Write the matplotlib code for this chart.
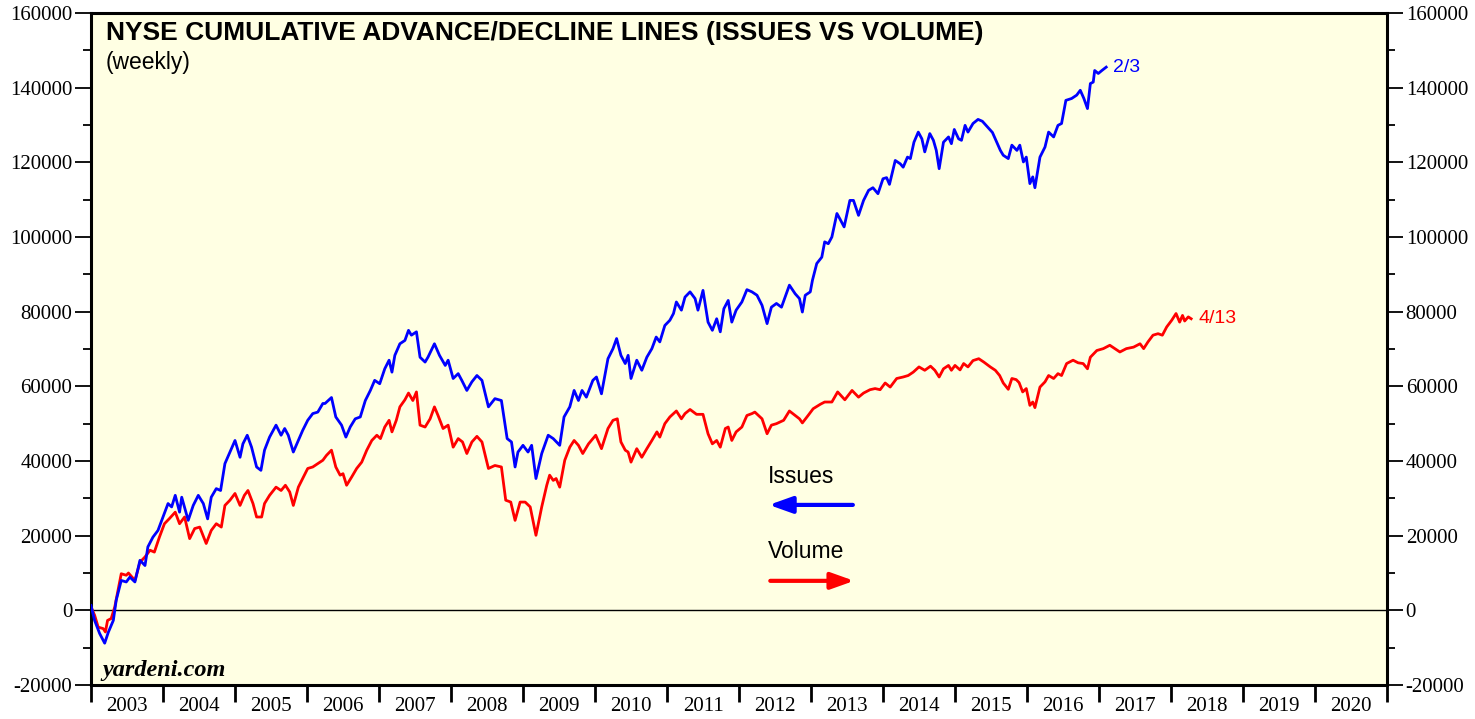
import numpy as np
import matplotlib
matplotlib.use("Agg")
import matplotlib.pyplot as plt
from matplotlib.ticker import MultipleLocator, NullFormatter, FixedLocator, FixedFormatter

plt.rcParams["axes.unicode_minus"] = False

# weekly readings, time as years after start of 2003, values in thousands
issues_t = [0.00, 0.05, 0.12, 0.19, 0.24, 0.31, 0.35, 0.42, 0.49, 0.54, 0.61, 0.68, 0.75, 0.79, 0.86, 0.93,
            1.00, 1.07, 1.12, 1.17, 1.23, 1.26, 1.35, 1.42, 1.49, 1.56, 1.62, 1.67, 1.74, 1.80, 1.86, 1.93,
            2.00, 2.07, 2.11, 2.17, 2.23, 2.30, 2.36, 2.41, 2.48, 2.57, 2.64, 2.69, 2.74, 2.81, 2.88, 2.94,
            3.01, 3.08, 3.15, 3.22, 3.25, 3.34, 3.40, 3.48, 3.54, 3.60, 3.67, 3.74, 3.81, 3.88, 3.94,
            4.01, 4.08, 4.14, 4.18, 4.22, 4.29, 4.36, 4.41, 4.45, 4.52, 4.57, 4.64, 4.68, 4.77, 4.84, 4.92, 4.96,
            5.03, 5.10, 5.15, 5.22, 5.29, 5.36, 5.43, 5.52, 5.61, 5.70, 5.78, 5.84, 5.89, 5.93,
            6.00, 6.07, 6.12, 6.18, 6.26, 6.35, 6.42, 6.51, 6.57, 6.65, 6.71, 6.77, 6.82, 6.88, 6.97,
            7.02, 7.09, 7.18, 7.25, 7.30, 7.36, 7.42, 7.46, 7.50, 7.58, 7.65, 7.72, 7.79, 7.85, 7.90, 7.97,
            8.04, 8.09, 8.13, 8.20, 8.25, 8.32, 8.39, 8.43, 8.50, 8.57, 8.63, 8.69, 8.74, 8.79, 8.85, 8.90, 8.96,
            9.04, 9.11, 9.18, 9.25, 9.32, 9.39, 9.45, 9.52, 9.59, 9.64, 9.70, 9.78, 9.84, 9.88, 9.92, 9.99,
            10.02, 10.08, 10.15, 10.19, 10.24, 10.29, 10.36, 10.40, 10.46, 10.54, 10.59, 10.66, 10.73, 10.80,
            10.86, 10.93, 11.00, 11.05, 11.09, 11.17, 11.24, 11.28, 11.34, 11.38, 11.43, 11.49, 11.54, 11.58,
            11.65, 11.70, 11.74, 11.78, 11.84, 11.91, 11.95, 11.99, 12.05, 12.09, 12.14, 12.18, 12.25, 12.32,
            12.38, 12.45, 12.52, 12.58, 12.63, 12.67, 12.74, 12.79, 12.86, 12.90, 12.95, 12.99,
            13.04, 13.08, 13.11, 13.18, 13.25, 13.30, 13.37, 13.43, 13.48, 13.54, 13.62, 13.69, 13.74, 13.79,
            13.84, 13.88, 13.92, 13.94, 13.99, 14.04, 14.10]
issues_v = [1.3, -2.7, -6.2, -8.8, -5.9, -2.7, 2.7, 8.0, 7.6, 8.9, 7.6, 13.4, 12.0, 17.0, 19.6, 21.4,
            25.0, 28.6, 27.7, 30.8, 26.3, 30.3, 24.1, 28.1, 30.8, 28.6, 24.5, 30.3, 32.6, 32.1, 39.3, 42.4,
            45.5, 41.0, 44.6, 46.9, 43.7, 38.4, 37.5, 42.9, 46.4, 49.6, 46.9, 48.7, 46.9, 42.4, 45.5, 48.2,
            50.9, 52.7, 53.1, 55.4, 55.4, 57.0, 51.8, 49.6, 46.4, 49.1, 51.3, 51.8, 56.2, 58.9, 61.6,
            60.7, 64.7, 67.0, 63.8, 68.3, 71.4, 72.3, 75.0, 73.7, 74.6, 67.8, 66.5, 67.8, 71.4, 68.3, 65.6, 67.0,
            62.1, 63.4, 61.6, 58.9, 61.2, 62.9, 61.6, 54.5, 56.7, 56.2, 46.0, 45.1, 38.4, 42.4,
            44.2, 42.4, 44.2, 35.3, 42.0, 46.9, 46.0, 44.2, 51.8, 54.5, 58.9, 56.2, 58.9, 57.1, 61.6,
            62.5, 58.0, 67.4, 70.1, 72.8, 68.3, 66.1, 68.3, 62.1, 67.0, 64.3, 67.8, 70.1, 73.2, 71.9, 76.3,
            77.7, 79.5, 82.6, 80.4, 83.9, 85.3, 83.5, 80.4, 85.7, 77.2, 75.0, 78.1, 74.6, 80.8, 83.0, 77.2, 80.4,
            82.6, 85.9, 85.3, 84.4, 81.7, 76.8, 81.2, 82.2, 81.2, 83.9, 87.1, 84.8, 83.5, 79.9, 84.4, 85.3,
            88.4, 92.9, 94.6, 98.7, 98.2, 100.0, 106.3, 104.9, 102.7, 109.8, 109.8, 105.8, 109.8, 112.5,
            113.2, 111.6, 115.6, 115.9, 114.1, 120.5, 119.6, 118.7, 121.4, 121.0, 125.4, 128.1, 126.3, 122.8,
            127.7, 125.9, 123.2, 118.3, 125.4, 126.8, 125.0, 128.8, 126.3, 125.9, 129.9, 128.1, 130.4, 131.5,
            131.0, 129.5, 128.0, 125.4, 123.2, 121.9, 121.0, 124.6, 123.2, 124.6, 120.1, 121.4,
            114.3, 116.1, 113.2, 121.4, 124.1, 128.1, 126.8, 129.9, 130.4, 136.6, 137.1, 138.0, 139.3, 137.1,
            134.4, 141.1, 141.5, 144.6, 143.8, 144.6, 145.5]

volume_t = [0.00, 0.05, 0.10, 0.17, 0.20, 0.23, 0.28, 0.33, 0.38, 0.42, 0.49, 0.52, 0.61, 0.68, 0.75, 0.82,
            0.88, 0.95, 1.02, 1.09, 1.17, 1.23, 1.30, 1.37, 1.44, 1.51, 1.60, 1.67, 1.74, 1.81, 1.86, 1.93,
            2.00, 2.07, 2.13, 2.18, 2.25, 2.30, 2.37, 2.41, 2.48, 2.57, 2.64, 2.70, 2.76, 2.81, 2.88, 2.94,
            3.01, 3.08, 3.15, 3.22, 3.27, 3.34, 3.40, 3.46, 3.50, 3.55, 3.62, 3.69, 3.76, 3.83, 3.90, 3.97,
            4.02, 4.08, 4.14, 4.18, 4.24, 4.29, 4.36, 4.41, 4.47, 4.52, 4.57, 4.64, 4.71, 4.77, 4.82, 4.89, 4.96,
            5.03, 5.10, 5.16, 5.22, 5.29, 5.36, 5.43, 5.52, 5.61, 5.70, 5.76, 5.83, 5.89, 5.96,
            6.03, 6.10, 6.18, 6.26, 6.33, 6.37, 6.42, 6.46, 6.51, 6.58, 6.65, 6.71, 6.77, 6.83, 6.91,
            7.01, 7.09, 7.18, 7.25, 7.31, 7.36, 7.42, 7.46, 7.50, 7.58, 7.65, 7.72, 7.79, 7.86, 7.90, 7.97,
            8.04, 8.13, 8.20, 8.25, 8.32, 8.41, 8.50, 8.57, 8.63, 8.69, 8.74, 8.81, 8.85, 8.90, 8.96,
            9.04, 9.11, 9.18, 9.22, 9.32, 9.39, 9.45, 9.52, 9.62, 9.70, 9.78, 9.84, 9.88, 9.96,
            10.03, 10.13, 10.19, 10.29, 10.37, 10.47, 10.57, 10.66, 10.73, 10.82, 10.89, 10.96,
            11.03, 11.10, 11.19, 11.28, 11.35, 11.42, 11.50, 11.58, 11.66, 11.72, 11.78, 11.84, 11.91, 11.95,
            12.00, 12.07, 12.12, 12.18, 12.25, 12.33, 12.40, 12.49, 12.56, 12.62, 12.67, 12.74, 12.79, 12.85,
            12.89, 12.94, 12.99, 13.04, 13.08, 13.11, 13.18, 13.25, 13.30, 13.37, 13.43, 13.48, 13.55, 13.64,
            13.71, 13.78, 13.84, 13.88, 13.97, 14.06, 14.15, 14.22, 14.29, 14.38, 14.48, 14.57, 14.62, 14.68,
            14.75, 14.82, 14.88, 14.94, 15.01, 15.07, 15.12, 15.16, 15.19, 15.24, 15.28]
volume_v = [0.9, -1.3, -4.5, -4.9, -5.8, -2.7, -2.2, 0.9, 5.8, 9.8, 9.4, 10.0, 8.0, 12.9, 14.3, 16.1,
            15.6, 19.6, 23.2, 24.6, 26.3, 23.2, 25.0, 19.2, 21.9, 22.3, 17.9, 21.4, 23.2, 22.3, 28.1, 29.5,
            31.3, 28.1, 30.8, 32.1, 28.6, 25.0, 25.0, 28.6, 30.8, 33.0, 32.1, 33.5, 31.7, 28.1, 33.0, 35.3,
            38.0, 38.4, 39.3, 40.2, 41.5, 42.9, 38.4, 36.2, 36.6, 33.5, 35.7, 38.0, 39.7, 42.9, 45.5, 46.9,
            46.0, 49.1, 50.9, 47.8, 50.9, 54.5, 56.4, 58.2, 56.2, 58.5, 49.6, 49.1, 51.3, 54.5, 52.2, 48.7, 49.6,
            43.7, 46.0, 45.1, 42.0, 45.1, 46.6, 45.1, 38.0, 38.8, 38.4, 29.5, 29.0, 24.1, 29.0,
            29.0, 27.7, 20.1, 27.7, 33.5, 36.2, 34.8, 35.3, 33.0, 40.2, 43.7, 45.5, 44.2, 42.0, 44.6,
            46.9, 43.3, 48.7, 50.9, 51.3, 45.1, 42.9, 42.4, 39.7, 43.3, 41.0, 43.3, 45.5, 47.8, 46.4, 50.0,
            51.8, 53.4, 51.3, 52.7, 53.8, 52.5, 52.5, 47.3, 44.6, 45.5, 43.7, 48.7, 49.1, 45.5, 47.8,
            49.1, 52.2, 52.7, 53.1, 51.3, 47.3, 49.6, 50.0, 50.9, 53.4, 52.2, 51.3, 50.2, 52.2,
            54.0, 55.2, 55.8, 55.8, 58.5, 56.4, 58.9, 57.1, 58.2, 59.1, 59.4, 59.1,
            60.9, 59.8, 62.1, 62.5, 62.9, 63.8, 65.2, 64.3, 65.4, 64.3, 62.5, 64.7, 65.6, 64.3,
            65.6, 64.4, 66.1, 65.2, 66.9, 67.4, 66.5, 65.2, 64.3, 62.9, 60.9, 59.2, 62.1, 61.8,
            61.0, 58.5, 59.4, 54.9, 55.8, 54.3, 59.8, 61.2, 62.9, 62.1, 63.4, 62.9, 66.1, 67.0,
            66.3, 66.1, 64.7, 67.8, 69.6, 70.1, 71.0, 70.1, 69.2, 70.1, 70.5, 71.4, 70.1, 71.9,
            73.7, 74.1, 73.7, 75.9, 77.7, 79.5, 77.2, 79.0, 77.5, 78.6, 78.1]

years = list(range(2003, 2021))
issues_label = "2/3"
volume_label = "4/13"

BLUE = "#0000FF"
RED = "#FF0000"
BG = "#FFFFE3"

fig = plt.figure(figsize=(14.75, 7.19), dpi=100)
ax = fig.add_axes([91 / 1475, 34 / 719, 1296 / 1475, 672 / 719])
ax.set_facecolor(BG)

it = 2003 + np.array(issues_t)
iv = np.array(issues_v) * 1000
vt = 2003 + np.array(volume_t)
vv = np.array(volume_v) * 1000

ax.axhline(0, color="black", lw=1.0, zorder=1)
ax.plot(it, iv, color=BLUE, lw=2.0, zorder=3)
ax.plot(vt, vv, color=RED, lw=2.0, zorder=2)

ax.set_xlim(2003, 2021)
ax.set_ylim(-20000, 160000)

# y axis on both sides, serif numbers
ax.yaxis.set_major_locator(MultipleLocator(20000))
ax.yaxis.set_minor_locator(MultipleLocator(10000))
ax.tick_params(axis="y", which="major", direction="out", length=11.5, width=1.3,
               left=True, right=True, labelleft=True, labelright=True, labelsize=15, pad=2)
ax.tick_params(axis="y", which="minor", direction="out", length=6, width=1.3, left=True, right=True)

# x axis: ticks at year boundaries, labels in the middle of each year
ax.xaxis.set_major_locator(FixedLocator(list(range(2003, 2022))))
ax.xaxis.set_major_formatter(NullFormatter())
ax.xaxis.set_minor_locator(FixedLocator([y + 0.5 for y in years]))
ax.xaxis.set_minor_formatter(FixedFormatter([str(y) for y in years]))
ax.tick_params(axis="x", which="major", direction="out", length=12, width=2.0, top=False)
ax.tick_params(axis="x", which="minor", length=0, labelsize=15, pad=8.5)

for lab in ax.get_xticklabels(minor=True) + ax.get_yticklabels():
    lab.set_fontfamily("Liberation Serif")

for s in ax.spines.values():
    s.set_linewidth(2.2)

ax.text(0.0116, 0.970, "NYSE CUMULATIVE ADVANCE/DECLINE LINES (ISSUES VS VOLUME)",
        transform=ax.transAxes, fontsize=19, fontweight="bold", family="Liberation Sans", va="center")
ax.text(0.0116, 0.926, "(weekly)", transform=ax.transAxes, fontsize=16.5,
        family="Liberation Sans", va="center")
ax.text(0.009, 0.022, "yardeni.com", transform=ax.transAxes, fontsize=17.5,
        family="Liberation Serif", fontweight="bold", style="italic", va="center")

# end-point date labels
ax.annotate(issues_label, xy=(it[-1], iv[-1]), xytext=(5, 0), textcoords="offset points",
            color=BLUE, fontsize=14, family="Liberation Sans", va="center")
ax.annotate(volume_label, xy=(vt[-1], vv[-1]), xytext=(5, 0), textcoords="offset points",
            color=RED, fontsize=14, family="Liberation Sans", va="center")

# legend with arrows
ax.text(0.522, 0.311, "Issues", transform=ax.transAxes, fontsize=16.5, family="Liberation Sans", va="center")
ax.annotate("", xy=(0.521, 0.268), xytext=(0.590, 0.268), xycoords="axes fraction",
            arrowprops=dict(arrowstyle="-|>,head_length=1.4,head_width=0.5", color=BLUE, lw=3))
ax.text(0.522, 0.199, "Volume", transform=ax.transAxes, fontsize=16.5, family="Liberation Sans", va="center")
ax.annotate("", xy=(0.591, 0.155), xytext=(0.522, 0.155), xycoords="axes fraction",
            arrowprops=dict(arrowstyle="-|>,head_length=1.4,head_width=0.5", color=RED, lw=3))

fig.savefig("out.png", dpi=100)
